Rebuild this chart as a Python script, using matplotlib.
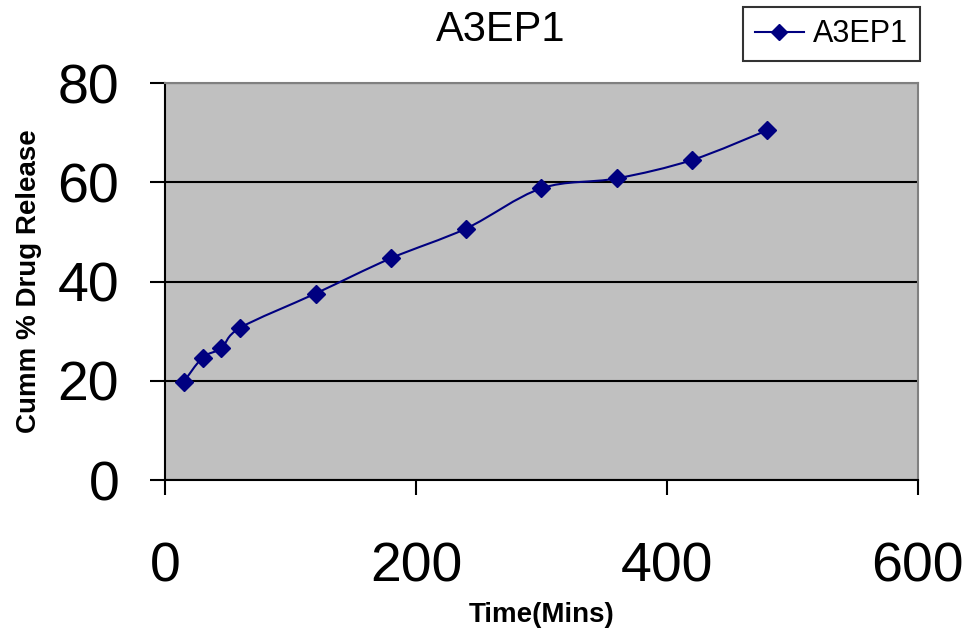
import numpy as np
import matplotlib
matplotlib.use('Agg')
import matplotlib.pyplot as plt
from matplotlib.path import Path
from matplotlib.patches import PathPatch
from matplotlib.lines import Line2D

plt.rcParams['font.family'] = ['Liberation Sans', 'DejaVu Sans']

# data
time_min = [15, 30, 45, 60, 120, 180, 240, 300, 360, 420, 480]
release = [19.8, 24.7, 26.6, 30.7, 37.6, 44.7, 50.7, 58.8, 60.8, 64.5, 70.5]
series_name = 'A3EP1'
xticks = [0, 200, 400, 600]
yticks = [0, 20, 40, 60, 80]

navy = '#000080'

fig = plt.figure(figsize=(9.65, 6.3), dpi=100)
ax = fig.add_axes([0.171, 0.238, 0.780, 0.630])
ax.set_facecolor('#C0C0C0')

# smoothed line (Excel-like Catmull-Rom bezier through the points)
x = np.array(time_min, dtype=float)
y = np.array(release, dtype=float)
verts = [(x[0], y[0])]
codes = [Path.MOVETO]
n = len(x)
for i in range(n - 1):
    p0 = (x[max(i - 1, 0)], y[max(i - 1, 0)])
    p1 = (x[i], y[i])
    p2 = (x[i + 1], y[i + 1])
    p3 = (x[min(i + 2, n - 1)], y[min(i + 2, n - 1)])
    c1 = (p1[0] + (p2[0] - p0[0]) / 6, p1[1] + (p2[1] - p0[1]) / 6)
    c2 = (p2[0] - (p3[0] - p1[0]) / 6, p2[1] - (p3[1] - p1[1]) / 6)
    verts += [c1, c2, p2]
    codes += [Path.CURVE4] * 3
ax.add_patch(PathPatch(Path(verts, codes), facecolor='none', edgecolor=navy,
                       linewidth=1.5, zorder=3))
ax.plot(time_min, release, linestyle='none', marker='D', markersize=9,
        color=navy, zorder=4)

ax.set_xlim(0, 600)
ax.set_ylim(0, 80)
ax.set_xticks(xticks)
ax.set_yticks(yticks)
ax.yaxis.grid(True, color='black', linewidth=1.5)
ax.set_axisbelow(True)
ax.tick_params(axis='both', direction='out', length=11, width=1.5, labelsize=40)
ax.tick_params(axis='x', pad=33)
ax.tick_params(axis='y', pad=22)
for s in ['left', 'bottom']:
    ax.spines[s].set_color('black')
    ax.spines[s].set_linewidth(1.5)
for s in ['top', 'right']:
    ax.spines[s].set_color('#808080')
    ax.spines[s].set_linewidth(1.5)

ax.set_xlabel('Time(Mins)', fontsize=20, fontweight='bold', labelpad=6)
ax.set_ylabel('Cumm % Drug Release', fontsize=20, fontweight='bold', labelpad=11)

fig.text(501 / 965, 1 - 30 / 630, series_name, fontsize=30, ha='center', va='center')

handle = Line2D([], [], color=navy, linewidth=1.5, marker='D', markersize=8)
leg = fig.legend([handle], [series_name], loc='upper right',
                 bbox_to_anchor=(920 / 965, 1 - 7 / 630), fontsize=22,
                 frameon=True, fancybox=False, handlelength=1.6,
                 handletextpad=0.3, borderpad=0.4, borderaxespad=0)
leg.get_frame().set_edgecolor('black')
leg.get_frame().set_linewidth(1.5)

fig.savefig('out.png', dpi=100)
